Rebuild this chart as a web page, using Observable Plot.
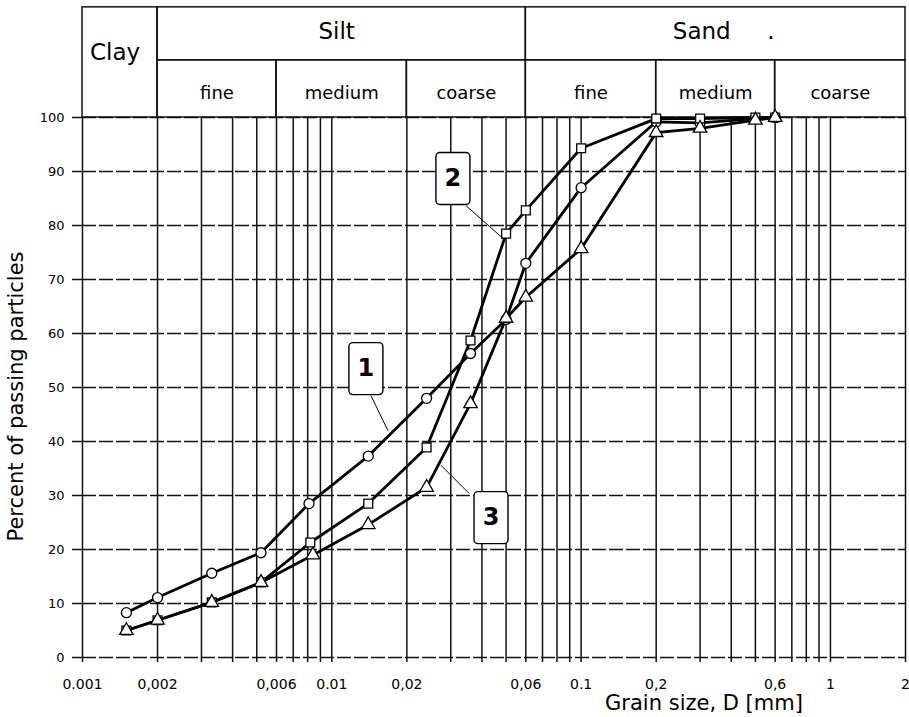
<!DOCTYPE html>
<html><head><meta charset="utf-8">
<script src="https://cdn.jsdelivr.net/npm/d3@7"></script>
<script src="https://cdn.jsdelivr.net/npm/@observablehq/plot@0.6"></script>
<style>body{margin:0;background:#fff}#chart svg{overflow:visible}</style>
</head><body><div id="chart"></div>
<script>
// ---- data ----
const curveNames = ["1", "2", "3"];
const size1 = [0.0015, 0.002, 0.0033, 0.0052, 0.0081, 0.014, 0.024, 0.036, 0.05, 0.06, 0.1, 0.2, 0.3, 0.5, 0.6];
const pass1 = [8.3, 11.1, 15.6, 19.4, 28.5, 37.3, 48.0, 56.3, 62.6, 73.0, 87.0, 99.2, 99.0, 99.8, 100];
const size2 = [0.0015, 0.002, 0.0033, 0.0052, 0.0082, 0.014, 0.024, 0.036, 0.05, 0.06, 0.1, 0.2, 0.3, 0.5, 0.6];
const pass2 = [5.0, 6.9, 10.2, 13.9, 21.3, 28.5, 38.9, 58.7, 78.5, 82.8, 94.3, 99.8, 99.8, 100, 100];
const size3 = [0.0015, 0.002, 0.0033, 0.0052, 0.0084, 0.014, 0.024, 0.036, 0.05, 0.06, 0.1, 0.2, 0.3, 0.5, 0.6];
const pass3 = [5.0, 6.9, 10.2, 13.9, 19.0, 24.6, 31.5, 47.0, 62.8, 66.7, 75.7, 97.2, 98.0, 99.5, 100];

// soil classes (grain-size limits, mm)
const mainClasses = ["Clay", "Silt", "Sand\u00a0\u00a0\u00a0\u00a0\u00a0."];
const mainLo = [0.001, 0.002, 0.06];
const mainHi = [0.002, 0.06, 2];
const subClasses = ["fine", "medium", "coarse", "fine", "medium", "coarse"];
const subLo = [0.002, 0.006, 0.02, 0.06, 0.2, 0.6];
const subHi = [0.006, 0.02, 0.06, 0.2, 0.6, 2];

// axis ticks
const gridX = [0.001,0.002,0.003,0.004,0.005,0.006,0.007,0.008,0.009,
               0.01,0.02,0.03,0.04,0.05,0.06,0.07,0.08,0.09,
               0.1,0.2,0.3,0.4,0.5,0.6,0.7,0.8,0.9,1,2];
const xTickValues = [0.001, 0.002, 0.006, 0.01, 0.02, 0.06, 0.1, 0.2, 0.6, 1, 2];
const xTickLabels = ["0.001", "0,002", "0,006", "0.01", "0,02", "0,06", "0.1", "0,2", "0,6", "1", "2"];
const yTicks = [0, 10, 20, 30, 40, 50, 60, 70, 80, 90, 100];

// curve label callouts (grain size, percent)
const calloutX = [0.0137, 0.0306, 0.0435];
const calloutY = [53.5, 88.7, 25.9];
const pointerFromX = [0.01435, 0.0345, 0.0355];
const pointerFromY = [48.5, 83.7, 30.4];
const pointerToX = [0.0168, 0.0486, 0.0274];
const pointerToY = [42.0, 77.6, 35.6];

const xTitle = "Grain size, D [mm]";
const yTitle = "Percent of passing particles";

// ---- build tables ----
const sizes = [size1, size2, size3], passes = [pass1, pass2, pass3];
const points = curveNames.flatMap((c, i) => sizes[i].map((s, j) => ({curve: c, size: s, pass: passes[i][j]})));
const callouts = curveNames.map((c, i) => ({
  text: c, x: calloutX[i], y: calloutY[i],
  x1: pointerFromX[i], y1: pointerFromY[i], x2: pointerToX[i], y2: pointerToY[i]
}));
const xLabels = xTickValues.map((v, i) => ({v, t: xTickLabels[i]}));

const HEADER_MID = 110.6, HEADER_TOP = 120.4;
const mainCells = mainClasses.map((t, i) => ({t, i, lo: mainLo[i], hi: mainHi[i], bottom: i === 0 ? 100 : HEADER_MID}));
const subCells = subClasses.map((t, i) => ({t, lo: subLo[i], hi: subHi[i]}));

const boxSymbol = {
  draw(ctx) {
    const w = 17, h = 26, r = 4;
    ctx.moveTo(-w + r, -h); ctx.lineTo(w - r, -h); ctx.arcTo(w, -h, w, -h + r, r);
    ctx.lineTo(w, h - r); ctx.arcTo(w, h, w - r, h, r);
    ctx.lineTo(-w + r, h); ctx.arcTo(-w, h, -w, h - r, r);
    ctx.lineTo(-w, -h + r); ctx.arcTo(-w, -h, -w + r, -h, r);
    ctx.closePath();
  }
};

const ink = "#111";
const cellText = (i, dx, dy) => Plot.text(mainCells, {filter: d => d.i === i,
  x: d => Math.sqrt(d.lo * d.hi), y: d => (d.bottom + HEADER_TOP) / 2, text: "t", fontSize: 23, dx, dy});

const chart = Plot.plot({
  width: 909, height: 717,
  marginLeft: 82, marginRight: 4, marginTop: 117, marginBottom: 60,
  style: {fontFamily: "'DejaVu Sans', sans-serif", fontSize: "13px", background: "white", color: "black"},
  x: {type: "log", domain: [0.001, 2]},
  y: {domain: [0, 100]},
  symbol: {domain: curveNames, range: ["circle", "square", "triangle"]},
  marks: [
    Plot.ruleY(yTicks, {stroke: ink, strokeWidth: 1.5, strokeDasharray: "14,3"}),
    Plot.ruleX(gridX, {y1: 0, y2: 100, stroke: ink, strokeWidth: 1.5}),
    Plot.axisX({ticks: gridX, tickSize: 5, stroke: ink, strokeWidth: 1.5, tickFormat: null, text: null, label: null}),
    Plot.text(xLabels, {x: "v", text: "t", frameAnchor: "bottom", lineAnchor: "middle", dy: 27, fontSize: 14}),
    Plot.axisY({ticks: yTicks, tickSize: 10, tickPadding: 8, fontSize: 13, stroke: ink, strokeWidth: 1.5, label: null}),
    // classification header
    Plot.rect(mainCells, {x1: "lo", x2: "hi", y1: "bottom", y2: HEADER_TOP, fill: "none", stroke: ink, strokeWidth: 1.5}),
    Plot.rect(subCells, {x1: "lo", x2: "hi", y1: 100, y2: HEADER_MID, fill: "none", stroke: ink, strokeWidth: 1.5}),
    cellText(0, -5, -10),
    cellText(1, -5, -2),
    cellText(2, 8, -2),
    Plot.text(subCells, {x: d => Math.sqrt(d.lo * d.hi), y: (100 + HEADER_MID) / 2, text: "t", fontSize: 18, dy: 4}),
    // grading curves
    Plot.line(points, {x: "size", y: "pass", z: "curve", stroke: "black", strokeWidth: 2.8}),
    Plot.dot(points, {x: "size", y: "pass", symbol: "curve", r: 5, fill: "white", stroke: "black", strokeWidth: 1.3}),
    // callouts
    Plot.link(callouts, {x1: "x1", y1: "y1", x2: "x2", y2: "y2", stroke: "black", strokeWidth: 1}),
    Plot.dot(callouts, {x: "x", y: "y", symbol: boxSymbol, r: 10, fill: "white", stroke: "black", strokeWidth: 1.4}),
    Plot.text(callouts, {x: "x", y: "y", text: "text", fontSize: 24, fontWeight: "bold"}),
    // axis titles
    Plot.text([xTitle], {frameAnchor: "bottom", textAnchor: "middle", lineAnchor: "middle", dx: 210, dy: 46, fontSize: 21}),
    Plot.text([yTitle], {frameAnchor: "left", textAnchor: "middle", lineAnchor: "middle", rotate: -90, dx: -66, dy: 9, fontSize: 21})
  ]
});
document.getElementById("chart").append(chart);
</script>
</body></html>
